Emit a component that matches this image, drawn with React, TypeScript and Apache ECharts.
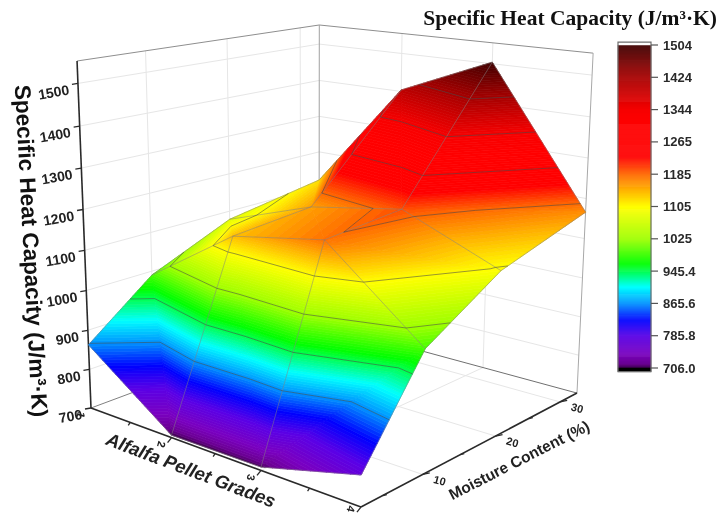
import React, { useEffect, useRef } from "react";
import * as echarts from "echarts";

const grades = [1, 2, 3, 4];
const moisture = [2.4, 10, 20, 32.8];
const heatGrade1 = [863, 990, 1078, 1120];
const heatGrade2 = [706, 1140, 1157, 1404];
const heatGrade3 = [708, 1181, 1197, 1504];
const heatGrade4 = [772, 990, 1100, 1166];
const heat = [heatGrade1, heatGrade2, heatGrade3, heatGrade4];

const heatTicks = [700, 800, 900, 1000, 1100, 1200, 1300, 1400, 1500];
const gradeTicks = [1, 2, 3, 4];
const gradeMinorTicks = [1.5, 2.5, 3.5];
const moistureTicks = [10, 20, 30];
const moistureMinorTicks = [5, 15, 25];
const colorbarLabels = ["706.0", "785.8", "865.6", "945.4", "1025", "1105", "1185", "1265", "1344", "1424", "1504"];
const contourLevels = [865.6, 945.4, 1025.2, 1105, 1184.8, 1264.6, 1344.4, 1424.2];

const rampValues = [706, 716, 741, 785, 824, 865, 906, 964, 1024, 1104, 1146, 1185, 1228, 1300, 1343, 1424, 1504];
const rampColors = ["#3a0048", "#6a0090", "#7a00c0", "#5a00e6", "#0000ff", "#0090ff", "#00ffff", "#00ff00", "#9cff00", "#ffff00", "#ffb400", "#ff6a00", "#ff0000", "#ff0000", "#f80000", "#a80000", "#400000"];

const TOP_Z = 1552, BOTTOM_Z = 700, MOIST_MIN = 2.4, MOIST_MAX = 32.8;
const BAND_MIN = 706, BAND_MAX = 1504, BAND_STEP = 79.8 / 16;
const SANS = '"Liberation Sans", Arial, sans-serif';
const SERIF = '"Liberation Serif", "Times New Roman", serif';

function project(g: number, m: number, z: number): number[] {
  const u = (g - 1) / 3;
  const v = (m - MOIST_MIN) / (MOIST_MAX - MOIST_MIN);
  const t = (z - BOTTOM_Z) / (TOP_Z - BOTTOM_Z);
  const w = 1 - 0.1492 * u + 0.1714 * v - 0.059 * t;
  return [
    (91 + 216.1 * u + 282.7 * v - 18.5 * t) / w,
    (408 + 23.4 * u - 29.6 * v - 350.6 * t) / w,
  ];
}

function hexRgb(c: string) {
  return [1, 3, 5].map((i) => parseInt(c.slice(i, i + 2), 16));
}
function ramp(z: number): string {
  let i = 0;
  while (i < rampValues.length - 2 && z > rampValues[i + 1]) i++;
  const f = Math.max(0, Math.min(1, (z - rampValues[i]) / (rampValues[i + 1] - rampValues[i])));
  const a = hexRgb(rampColors[i]), b = hexRgb(rampColors[i + 1]);
  return `rgb(${a.map((x, k) => Math.round(x + (b[k] - x) * f)).join(",")})`;
}

type P3 = number[];
const triangles: P3[][] = [];
for (let i = 0; i < grades.length - 1; i++) {
  for (let j = 0; j < moisture.length - 1; j++) {
    const p = (a: number, b: number): P3 => [grades[a], moisture[b], heat[a][b]];
    const A = p(i, j), B = p(i + 1, j), C = p(i + 1, j + 1), D = p(i, j + 1);
    if (i < 2) triangles.push([A, B, D], [B, C, D]);
    else triangles.push([A, B, C], [A, C, D]);
  }
}
const depth = (t: P3[]) => {
  const [cg, cm] = [t[0][0] + t[1][0] + t[2][0], t[0][1] + t[1][1] + t[2][1]];
  return 0.1492 * cg / 9 - 0.1714 * (cm / 3 - MOIST_MIN) / (MOIST_MAX - MOIST_MIN);
};
triangles.sort((a, b) => depth(a) - depth(b));

function clip(poly: P3[], level: number, keepAbove: boolean): P3[] {
  const out: P3[] = [];
  for (let i = 0; i < poly.length; i++) {
    const a = poly[i], b = poly[(i + 1) % poly.length];
    const ia = keepAbove ? a[2] >= level : a[2] <= level;
    const ib = keepAbove ? b[2] >= level : b[2] <= level;
    if (ia) out.push(a);
    if (ia !== ib) {
      const f = (level - a[2]) / (b[2] - a[2]);
      out.push([a[0] + (b[0] - a[0]) * f, a[1] + (b[1] - a[1]) * f, level]);
    }
  }
  return out;
}

const bandStarts: number[] = [];
for (let z = BAND_MIN; z < BAND_MAX - 1e-6; z += BAND_STEP) bandStarts.push(z);

type Seg = { a: P3; b: P3; color: string; width: number };
const boxBack: Seg[] = [];
const seg = (a: P3, b: P3, color: string, width: number) => boxBack.push({ a, b, color, width });
const gridCol = "#e6e6e6";
const gMin = grades[0], gMax = grades[3];
heatTicks.slice(1).forEach((z) => {
  seg([gMin, MOIST_MIN, z], [gMin, MOIST_MAX, z], gridCol, 1);
  seg([gMin, MOIST_MAX, z], [gMax, MOIST_MAX, z], gridCol, 1);
});
moistureTicks.forEach((m) => {
  seg([gMin, m, BOTTOM_Z], [gMin, m, TOP_Z], gridCol, 1);
  seg([gMin, m, BOTTOM_Z], [gMax, m, BOTTOM_Z], gridCol, 1);
});
[2, 3].forEach((g) => {
  seg([g, MOIST_MAX, BOTTOM_Z], [g, MOIST_MAX, TOP_Z], gridCol, 1);
  seg([g, MOIST_MIN, BOTTOM_Z], [g, MOIST_MAX, BOTTOM_Z], gridCol, 1);
});
const edge = "#8e8e8e";
seg([gMin, MOIST_MIN, TOP_Z], [gMin, MOIST_MAX, TOP_Z], edge, 1);
seg([gMin, MOIST_MAX, TOP_Z], [gMax, MOIST_MAX, TOP_Z], edge, 1);
seg([gMin, MOIST_MAX, BOTTOM_Z], [gMin, MOIST_MAX, TOP_Z], "#a0a0a0", 1);
seg([gMax, MOIST_MAX, BOTTOM_Z], [gMax, MOIST_MAX, TOP_Z], "#a8a8a8", 1);
seg([gMin, MOIST_MIN, BOTTOM_Z], [gMin, MOIST_MAX, BOTTOM_Z], "#808080", 1);
seg([gMin, MOIST_MAX, BOTTOM_Z], [gMax, MOIST_MAX, BOTTOM_Z], "#707070", 1);
seg([gMin, MOIST_MIN, BOTTOM_Z], [gMin, MOIST_MIN, TOP_Z], "#2a2a2a", 1.6);
seg([gMin, MOIST_MIN, BOTTOM_Z], [gMax, MOIST_MIN, BOTTOM_Z], "#2a2a2a", 1.6);
seg([gMax, MOIST_MIN, BOTTOM_Z], [gMax, MOIST_MAX, BOTTOM_Z], "#2a2a2a", 1.6);

const meshSegs: Seg[] = [];
const meshCol = "rgba(130,130,130,0.5)";
for (let i = 0; i < grades.length; i++) {
  for (let j = 0; j < moisture.length - 1; j++) {
    meshSegs.push({ a: [grades[i], moisture[j], heat[i][j]], b: [grades[i], moisture[j + 1], heat[i][j + 1]], color: meshCol, width: 1 });
  }
}
for (let j = 0; j < moisture.length; j++) {
  for (let i = 0; i < grades.length - 1; i++) {
    meshSegs.push({ a: [grades[i], moisture[j], heat[i][j]], b: [grades[i + 1], moisture[j], heat[i + 1][j]], color: meshCol, width: 1 });
  }
}
const contourCol = "rgba(70,70,70,0.55)";
triangles.forEach((t) => {
  contourLevels.forEach((level) => {
    const pts: P3[] = [];
    for (let i = 0; i < 3; i++) {
      const a = t[i], b = t[(i + 1) % 3];
      if (a[2] < level !== b[2] < level) {
        const f = (level - a[2]) / (b[2] - a[2]);
        pts.push([a[0] + (b[0] - a[0]) * f, a[1] + (b[1] - a[1]) * f, level]);
      }
    }
    if (pts.length === 2) meshSegs.push({ a: pts[0], b: pts[1], color: contourCol, width: 1 });
  });
});

const rad = (d: number) => (d * Math.PI) / 180;

function segRender(list: Seg[]) {
  return (params: any, api: any) => {
    if (params.dataIndex > 0) return null;
    return {
      type: "group",
      children: list.map((s) => {
        const p = api.coord(project(s.a[0], s.a[1], s.a[2]));
        const q = api.coord(project(s.b[0], s.b[1], s.b[2]));
        return {
          type: "line",
          shape: { x1: p[0], y1: p[1], x2: q[0], y2: q[1] },
          style: { stroke: s.color, lineWidth: s.width, fill: "none" },
          silent: true,
        };
      }),
    };
  };
}

function surfaceRender(params: any, api: any) {
  const tri = triangles[params.dataIndex];
  const children: any[] = [];
  bandStarts.forEach((low) => {
    let poly = clip(tri, low, true);
    if (poly.length < 3) return;
    const top = low + BAND_STEP;
    poly = clip(poly, top, false);
    if (poly.length < 3) return;
    const color = ramp(low + BAND_STEP / 2);
    children.push({
      type: "polygon",
      shape: { points: poly.map((p) => api.coord(project(p[0], p[1], p[2]))) },
      style: { fill: color, stroke: color, lineWidth: 0.7, lineJoin: "round" },
      silent: true,
    });
  });
  return { type: "group", children };
}

function tickLabelRender(params: any, api: any) {
  if (params.dataIndex > 0) return null;
  const children: any[] = [];
  const line = (p: number[], dx: number, dy: number) => ({
    type: "line",
    shape: { x1: p[0], y1: p[1], x2: p[0] + dx, y2: p[1] + dy },
    style: { stroke: "#2a2a2a", lineWidth: 1.3 },
    silent: true,
  });
  const text = (s: string, x: number, y: number, size: number, deg: number, align: string) => ({
    type: "text",
    x,
    y,
    rotation: rad(deg),
    style: { text: s, font: `bold ${size}px ${SANS}`, fill: "#222", align, verticalAlign: "middle" },
    silent: true,
  });
  heatTicks.forEach((z) => {
    const p = api.coord(project(gMin, MOIST_MIN, z));
    children.push(line(p, -6, 1));
    children.push(text(String(z), p[0] - 9, p[1] + 6, 14, 10, "right"));
  });
  gradeTicks.forEach((g) => {
    const p = api.coord(project(g, MOIST_MIN, BOTTOM_Z));
    if (g > 1) children.push(line(p, -4, 5));
    children.push(text(String(g), p[0] - 10, g === 4 ? p[1] + 2 : p[1] + 7, 11, -105, "center"));
  });
  gradeMinorTicks.forEach((g) => {
    const p = api.coord(project(g, MOIST_MIN, BOTTOM_Z));
    children.push(line(p, -2, 3));
  });
  moistureTicks.forEach((m) => {
    const p = api.coord(project(gMax, m, BOTTOM_Z));
    children.push(line(p, 7, -1.5));
    children.push(text(String(m), p[0] + 17, p[1] + 6, 11, -15, "center"));
  });
  moistureMinorTicks.forEach((m) => {
    const p = api.coord(project(gMax, m, BOTTOM_Z));
    children.push(line(p, 4, -1));
  });
  return { type: "group", children };
}

const toIndex = (z: number) => (z - BAND_MIN) / 79.8;

function colorbarRender(params: any, api: any) {
  if (params.dataIndex > 0) return null;
  const children: any[] = [];
  const box = (z0: number, z1: number, color: string) => {
    const a = api.coord([0, toIndex(z0)]);
    const b = api.coord([1, toIndex(z1)]);
    children.push({
      type: "rect",
      shape: { x: a[0], y: b[1], width: b[0] - a[0], height: a[1] - b[1] },
      style: { fill: color, stroke: color, lineWidth: 0.5 },
      silent: true,
    });
  };
  const step = 2.5;
  for (let z = BAND_MIN; z < BAND_MAX; z += step) box(z, Math.min(z + step, BAND_MAX), ramp(z + step / 2));
  box(697, BAND_MIN, "#000000");
  box(BAND_MAX, 1511, "#ffffff");
  const a = api.coord([0, toIndex(697)]);
  const b = api.coord([1, toIndex(1511)]);
  children.push({
    type: "rect",
    shape: { x: a[0], y: b[1], width: b[0] - a[0], height: a[1] - b[1] },
    style: { fill: "none", stroke: "#6e6e6e", lineWidth: 1.2 },
    silent: true,
  });
  colorbarLabels.forEach((_, i) => {
    const p = api.coord([1, i]);
    children.push({
      type: "line",
      shape: { x1: p[0], y1: p[1], x2: p[0] + 7, y2: p[1] },
      style: { stroke: "#555", lineWidth: 1.2 },
      silent: true,
    });
  });
  return { type: "group", children };
}

export default function App() {
  const ref = useRef<HTMLDivElement>(null);
  useEffect(() => {
    document.body.style.margin = "0";
    const chart = echarts.init(ref.current!, null, { renderer: "svg" });
    chart.setOption({
      animation: false,
      backgroundColor: "#ffffff",
      grid: [
        { left: 0, top: 0, right: 0, bottom: 0, show: false },
        { left: 618, top: 45, width: 33, height: 323, show: false },
      ],
      xAxis: [
        { type: "value", gridIndex: 0, min: 0, max: 717, show: false },
        { type: "value", gridIndex: 1, min: 0, max: 1, show: false },
      ],
      yAxis: [
        { type: "value", gridIndex: 0, min: 0, max: 516, inverse: true, show: false },
        {
          type: "value",
          gridIndex: 1,
          min: 0,
          max: 10,
          interval: 1,
          position: "right",
          axisLine: { show: false },
          axisTick: { show: false },
          splitLine: { show: false },
          axisLabel: {
            margin: 12,
            color: "#2a2a2a",
            fontFamily: SANS,
            fontWeight: "bold",
            fontSize: 13,
            formatter: (v: number) => colorbarLabels[Math.round(v)],
          },
        },
      ],
      graphic: [
        {
          type: "text",
          x: 717,
          y: 18,
          style: {
            text: "Specific Heat Capacity (J/m³·K)",
            font: `bold 21.5px ${SERIF}`,
            fill: "#111",
            align: "right",
            verticalAlign: "middle",
          },
        },
        {
          type: "text",
          x: 31,
          y: 251,
          rotation: rad(-87),
          style: {
            text: "Specific Heat Capacity (J/m³·K)",
            font: `bold 22.5px ${SANS}`,
            fill: "#111",
            align: "center",
            verticalAlign: "middle",
          },
        },
        {
          type: "text",
          x: 191,
          y: 470,
          rotation: rad(-20.7),
          style: {
            text: "Alfalfa Pellet Grades",
            font: `italic bold 18.5px ${SANS}`,
            fill: "#222",
            align: "center",
            verticalAlign: "middle",
          },
        },
        {
          type: "text",
          x: 519,
          y: 460,
          rotation: rad(27),
          style: {
            text: "Moisture Content (%)",
            font: `bold 15.5px ${SANS}`,
            fill: "#222",
            align: "center",
            verticalAlign: "middle",
          },
        },
      ],
      series: [
        { type: "custom", xAxisIndex: 0, yAxisIndex: 0, silent: true, data: [[0, 0]], renderItem: segRender(boxBack) },
        { type: "custom", xAxisIndex: 0, yAxisIndex: 0, silent: true, data: [[0, 0]], renderItem: tickLabelRender },
        { type: "custom", xAxisIndex: 0, yAxisIndex: 0, silent: true, data: triangles.map((_, i) => [i, 0]), renderItem: surfaceRender },
        { type: "custom", xAxisIndex: 0, yAxisIndex: 0, silent: true, data: [[0, 0]], renderItem: segRender(meshSegs) },
        { type: "custom", xAxisIndex: 1, yAxisIndex: 1, silent: true, data: [[0, 0]], renderItem: colorbarRender },
      ],
    });
    return () => chart.dispose();
  }, []);
  return <div ref={ref} style={{ position: "absolute", left: 0, top: 0, width: 717, height: 516, filter: "blur(0.4px)" }} />;
}
